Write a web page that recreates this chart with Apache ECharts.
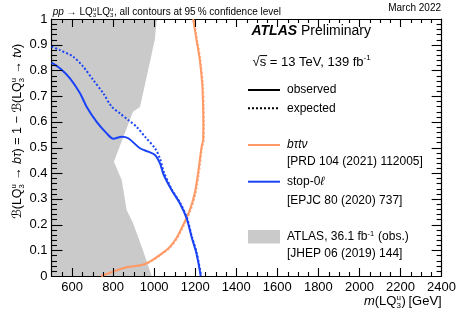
<!DOCTYPE html>
<html>
<head>
<meta charset="utf-8">
<script src="https://cdn.jsdelivr.net/npm/echarts@6.0.0/dist/echarts.min.js"></script>
<style>
html, body { margin: 0; padding: 0; background: #fff; }
#lq { width: 459px; height: 310px; }
</style>
</head>
<body>
<div id="lq"></div>
<script>
// ATLAS 2016 result, grey area (boundary read clockwise)
var greyMass = [500, 500, 1013, 1003, 931, 897, 804, 842, 866, 897, 945, 988];
var greyBr   = [0, 1, 1, 0.918, 0.658, 0.639, 0.445, 0.374, 0.257, 0.206, 0.101, 0];

// b tau t nu
var btauObsMass = [741, 799, 866, 939, 979, 1028, 1076, 1109, 1141, 1174, 1198, 1214, 1231, 1238.5, 1239.5, 1238.5, 1234.5, 1222.5, 1206.5, 1190];
var btauObsBr   = [0, 0.017, 0.034, 0.043, 0.056, 0.082, 0.113, 0.148, 0.198, 0.257, 0.323, 0.401, 0.502, 0.529, 0.588, 0.658, 0.743, 0.840, 0.918, 1.0];
var btauExpMass = [744, 803, 870, 943, 983, 1032, 1080, 1113, 1145, 1178, 1202, 1218, 1234, 1241.5, 1242.5, 1241.5, 1237.5, 1225.5, 1209.5, 1193];
var btauExpBr   = [0, 0.017, 0.034, 0.043, 0.056, 0.082, 0.113, 0.148, 0.198, 0.257, 0.323, 0.401, 0.502, 0.529, 0.588, 0.658, 0.743, 0.840, 0.918, 1.0];

// stop-0l
var stopObsMass = [500, 541, 590, 639, 671, 720, 769, 801, 842, 874, 931, 971, 1004, 1028, 1047, 1085, 1125, 1158, 1182, 1206, 1227];
var stopObsBr   = [0.830, 0.808, 0.769, 0.711, 0.659, 0.600, 0.555, 0.534, 0.542, 0.536, 0.497, 0.484, 0.471, 0.439, 0.393, 0.335, 0.283, 0.225, 0.153, 0.088, 0];
var stopExpMass = [500, 541, 606, 655, 703, 752, 793, 833, 874, 914, 955, 1004, 1028, 1047, 1086, 1127, 1160, 1184, 1208, 1229];
var stopExpBr   = [0.893, 0.879, 0.853, 0.814, 0.763, 0.711, 0.659, 0.633, 0.607, 0.581, 0.542, 0.497, 0.458, 0.405, 0.337, 0.284, 0.226, 0.153, 0.088, 0];

// axis range and ticks (labels come out every 200: 600 ... 2400)
var massMin = 500, massMax = 2400;
var xMajorTicks = [600, 800, 1000, 1200, 1400, 1600, 1800, 2000, 2200, 2400];
var xMinorStep = 50;
var yMajorStep = 0.1, yMinorPerMajor = 5;

var ORANGE = '#ff9a66';
var BLUE = '#1a43f5';
var GREY = '#cacaca';
var FONT = '"Liberation Sans", "DejaVu Sans", Arial, sans-serif';

function pairs(xs, ys) {
	return xs.map(function (x, i) { return [x, ys[i]]; });
}

// tick lists for the frame: [value, length]
var xTickList = [];
for (var mv = massMin + xMinorStep; mv < massMax; mv += xMinorStep) {
	xTickList.push([mv, xMajorTicks.indexOf(mv) >= 0 ? 8 : 4]);
}
var yTickList = [];
for (var k = 1; k < 10 * yMinorPerMajor; k++) {
	yTickList.push([k * yMajorStep / yMinorPerMajor, k % yMinorPerMajor === 0 ? 11 : 5.5]);
}

// small helper for text with italics / stacked sub+superscripts
var measureCtx = document.createElement('canvas').getContext('2d');
function fontOf(size, style) { return (style ? style + ' ' : '') + size + 'px ' + FONT; }
function widthOf(t, size, style) { measureCtx.font = fontOf(size, style); return measureCtx.measureText(t).width; }

function mathText(pieces, size, x, y, opts) {
	opts = opts || {};
	var items = [], pos = 0;
	pieces.forEach(function (p) {
		if (typeof p === 'string') p = { t: p };
		if (p.sup != null || p.sub != null) {
			var s = size * 0.62, w = 0;
			if (p.sup != null) { items.push({ t: p.sup, x: pos, dy: -size * 0.42, size: s }); w = Math.max(w, widthOf(p.sup, s)); }
			if (p.sub != null) { items.push({ t: p.sub, x: pos, dy: size * 0.2, size: s }); w = Math.max(w, widthOf(p.sub, s)); }
			pos += w + size * 0.05;
		} else {
			var w2 = widthOf(p.t, size, p.style);
			items.push({ t: p.t, x: pos, dy: 0, size: size, style: p.style, over: p.over, w: w2 });
			pos += w2;
		}
	});
	var off = opts.align === 'right' ? -pos : (opts.align === 'center' ? -pos / 2 : 0);
	var children = [];
	items.forEach(function (it) {
		children.push({
			type: 'text', x: it.x + off, y: it.dy - it.size * 0.35,
			style: { text: it.t, font: fontOf(it.size, it.style), fill: '#000',
				align: 'left', verticalAlign: 'middle', textAlign: 'left', textVerticalAlign: 'middle' }
		});
		if (it.over) {
			children.push({ type: 'line', shape: { x1: it.x + off, y1: -size * 0.84, x2: it.x + off + it.w + 1, y2: -size * 0.84 },
				style: { stroke: '#000', lineWidth: 1 } });
		}
	});
	return { type: 'group', x: x, y: y, rotation: opts.rotation || 0, children: children };
}

var LQ = { sup: 'u', sub: '3' };

var graphics = [
	mathText([{ t: 'pp', style: 'italic' }, ' \u2192 LQ', LQ, 'LQ', LQ, ', all contours at 95\u2009% confidence level'], 10, 52.7, 15.5),
	mathText(['March 2022'], 10, 441, 12, { align: 'right' }),
	mathText(['\u212C(LQ', LQ, ' \u2192 ', { t: 'b\u03C4', style: 'italic' }, ') = 1 \u2212 \u212C(LQ', LQ, ' \u2192 ', { t: 't\u03BD', style: 'italic' }, ')'], 12.5, 22, 131.5, { align: 'center', rotation: Math.PI / 2 }),
	mathText([{ t: 'm', style: 'italic' }, '(LQ', LQ, ')\u2009[GeV]'], 13, 441.7, 306, { align: 'right' }),
	mathText([{ t: 'ATLAS', style: 'italic bold' }, ' Preliminary'], 14, 251.5, 36.5),
	mathText(['\u221A', { t: 's', over: true }, ' = 13 TeV, 139 fb', { sup: '-1' }], 13, 252.5, 66.5),

	mathText(['observed'], 12, 287, 94.2),
	mathText(['expected'], 12, 287, 112.5),
	mathText([{ t: 'b\u03C4t\u03BD', style: 'italic' }], 12, 287, 149.2),
	mathText(['[PRD 104 (2021) 112005]'], 12, 287, 166),
	mathText(['stop-0', { t: '\u2113', style: 'italic' }], 12, 287, 186),
	mathText(['[EPJC 80 (2020) 737]'], 12, 287, 205),
	mathText(['ATLAS, 36.1 fb', { sup: '-1' }, ' (obs.)'], 12, 287, 241.2),
	mathText(['[JHEP 06 (2019) 144]'], 12, 287, 258.2),

	{ type: 'line', shape: { x1: 248, y1: 90, x2: 280, y2: 90 }, style: { stroke: '#000', lineWidth: 2 } },
	{ type: 'line', shape: { x1: 248, y1: 108.3, x2: 280, y2: 108.3 }, style: { stroke: '#000', lineWidth: 2, lineDash: [2, 2] } },
	{ type: 'line', shape: { x1: 248, y1: 145, x2: 280, y2: 145 }, style: { stroke: ORANGE, lineWidth: 2 } },
	{ type: 'line', shape: { x1: 248, y1: 181.7, x2: 280, y2: 181.7 }, style: { stroke: BLUE, lineWidth: 2 } },
	{ type: 'rect', shape: { x: 248, y: 230, width: 32, height: 13.5 }, style: { fill: GREY } }
];

function massAxis(pos, showLabel) {
	var ax = {
		type: 'value', position: pos, min: massMin, max: massMax, splitNumber: 10,
		axisLine: { show: true, lineStyle: { color: '#000', width: 1.2 } },
		axisTick: { show: false },
		axisLabel: { show: false },
		splitLine: { show: false }
	};
	if (pos === 'top') ax.axisLine.onZero = false;
	if (showLabel) {
		ax.axisLabel = {
			show: true, showMinLabel: false, fontSize: 13, color: '#000', margin: 5, fontFamily: FONT,
			formatter: function (v) { return String(v); }
		};
	}
	return ax;
}

function brAxis(pos, showLabel) {
	return {
		type: 'value', position: pos, min: 0, max: 1, interval: yMajorStep,
		axisLine: { show: true, lineStyle: { color: '#000', width: 1.2 } },
		axisTick: { show: false },
		minorTick: { show: false },
		axisLabel: { show: showLabel, fontSize: 13, color: '#000', margin: 4, fontFamily: FONT },
		splitLine: { show: false }
	};
}

var option = {
	animation: false,
	grid: { left: 51.5, right: 17, top: 19, bottom: 34 },
	xAxis: [massAxis('bottom', true), massAxis('top', false)],
	yAxis: [brAxis('left', true), brAxis('right', false)],
	series: [
		{
			name: 'ATLAS 36.1',
			type: 'custom',
			z: -1,
			silent: true,
			data: pairs(greyMass, greyBr),
			renderItem: function (params, api) {
				if (params.dataIndex !== 0) return;
				var pts = greyMass.map(function (m, i) { return api.coord([m, greyBr[i]]); });
				return { type: 'polygon', shape: { points: pts }, style: { fill: GREY } };
			}
		},
		{
			name: 'btautnu expected', type: 'line', data: pairs(btauExpMass, btauExpBr),
			showSymbol: false, smooth: 0.3, z: 2,
			lineStyle: { color: ORANGE, width: 2, type: [2, 2], opacity: 0.8 }
		},
		{
			name: 'btautnu observed', type: 'line', data: pairs(btauObsMass, btauObsBr),
			showSymbol: false, smooth: 0.3, z: 3,
			lineStyle: { color: ORANGE, width: 2 }
		},
		{
			name: 'stop-0l expected', type: 'line', data: pairs(stopExpMass, stopExpBr),
			showSymbol: false, smooth: 0.3, z: 3,
			lineStyle: { color: BLUE, width: 2, type: [2, 2] }
		},
		{
			name: 'stop-0l observed', type: 'line', data: pairs(stopObsMass, stopObsBr),
			showSymbol: false, smooth: 0.3, z: 4,
			lineStyle: { color: BLUE, width: 2 }
		}
	],
	graphic: graphics
};

var chart = echarts.init(document.getElementById('lq'));
chart.setOption(option);

// inside ticks on all four sides, placed through the axes' own scales
function tickLine(x1, y1, x2, y2) {
	return { type: 'line', z: 100, shape: { x1: x1, y1: y1, x2: x2, y2: y2 }, style: { stroke: '#000', lineWidth: 1.1 } };
}
function frameTicks() {
	var els = [];
	var yBottom = chart.convertToPixel({ yAxisIndex: 0 }, 0);
	var yTop = chart.convertToPixel({ yAxisIndex: 0 }, 1);
	var xLeft = chart.convertToPixel({ xAxisIndex: 0 }, massMin);
	var xRight = chart.convertToPixel({ xAxisIndex: 0 }, massMax);
	xTickList.forEach(function (d) {
		var x = Math.round(chart.convertToPixel({ xAxisIndex: 0 }, d[0])) + 0.5;
		els.push(tickLine(x, yBottom, x, yBottom - d[1]));
		els.push(tickLine(x, yTop, x, yTop + d[1]));
	});
	yTickList.forEach(function (d) {
		var y = Math.round(chart.convertToPixel({ yAxisIndex: 0 }, d[0])) + 0.5;
		els.push(tickLine(xLeft, y, xLeft + d[1], y));
		els.push(tickLine(xRight, y, xRight - d[1] * 0.9, y));
	});
	chart.setOption({ graphic: graphics.concat(els) });
}
frameTicks();

window.addEventListener('resize', function () {
	chart.resize();
	frameTicks();
});
</script>
</body>
</html>
